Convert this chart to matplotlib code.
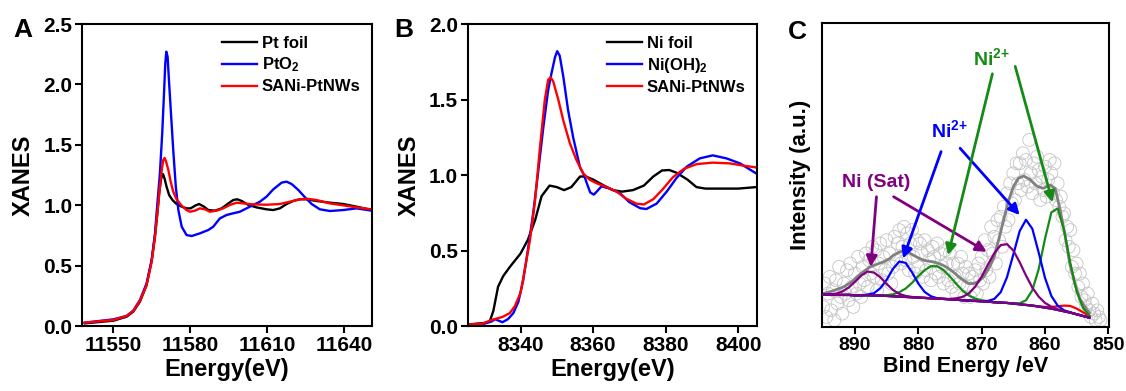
import numpy as np
import matplotlib
matplotlib.use("Agg")
import matplotlib.pyplot as plt

plt.rcParams["font.family"] = ["Liberation Sans", "DejaVu Sans"]
plt.rcParams["font.weight"] = "bold"
plt.rcParams["axes.labelweight"] = "bold"
plt.rcParams["mathtext.fontset"] = "custom"
plt.rcParams["mathtext.rm"] = "Liberation Sans:bold"
plt.rcParams["mathtext.bf"] = "Liberation Sans:bold"
plt.rcParams["mathtext.default"] = "bf"

# ---- panel A: Pt L3-edge XANES ----
pt_foil_e = [11538.9, 11550.0, 11555.2, 11557.8, 11560.4, 11563.0, 11565.0, 11566.3, 11567.2, 11567.9,
             11568.7, 11569.4, 11570.0, 11570.8, 11571.8, 11573.1, 11574.7, 11576.7, 11578.6, 11580.2,
             11581.9, 11583.5, 11585.4, 11587.1, 11589.7, 11592.3, 11594.9, 11596.8, 11598.4, 11600.1,
             11602.7, 11605.9, 11609.8, 11612.4, 11615.0, 11617.6, 11620.2, 11622.8, 11625.4, 11629.3,
             11634.5, 11639.7, 11644.9, 11650.8]
pt_foil_y = [0.022, 0.044, 0.077, 0.119, 0.201, 0.339, 0.546, 0.753, 0.933, 1.098,
             1.222, 1.258, 1.222, 1.153, 1.084, 1.043, 1.010, 0.988, 0.974, 0.974,
             0.996, 1.010, 0.988, 0.960, 0.955, 0.974, 1.015, 1.043, 1.049, 1.035,
             1.002, 0.982, 0.966, 0.960, 0.974, 1.010, 1.035, 1.049, 1.049, 1.035,
             1.021, 1.010, 0.988, 0.960]

pto2_e = [11538.9, 11550.0, 11555.2, 11557.8, 11560.4, 11563.0, 11565.0, 11566.3, 11566.9, 11568.2,
          11569.1, 11569.8, 11570.3, 11570.7, 11571.2, 11571.8, 11572.6, 11573.4, 11574.4, 11575.4,
          11576.7, 11578.6, 11580.6, 11583.8, 11587.1, 11589.0, 11591.6, 11594.2, 11596.8, 11599.4,
          11603.3, 11607.2, 11609.8, 11612.4, 11615.7, 11617.6, 11619.6, 11622.2, 11624.8, 11627.4,
          11630.6, 11634.5, 11639.7, 11644.9, 11650.8]
pto2_y = [0.028, 0.055, 0.083, 0.127, 0.215, 0.353, 0.546, 0.767, 0.933, 1.264,
          1.595, 1.926, 2.174, 2.271, 2.230, 2.009, 1.733, 1.457, 1.153, 0.960,
          0.822, 0.753, 0.745, 0.767, 0.795, 0.822, 0.891, 0.919, 0.933, 0.946,
          0.988, 1.029, 1.071, 1.131, 1.187, 1.195, 1.175, 1.126, 1.065, 1.010,
          0.966, 0.952, 0.960, 0.974, 0.955]

pt_sani_e = [11538.9, 11550.0, 11555.2, 11557.8, 11560.4, 11563.0, 11565.0, 11566.3, 11567.2, 11568.2,
             11569.0, 11569.5, 11570.0, 11570.5, 11571.5, 11572.4, 11573.4, 11574.7, 11576.7, 11578.6,
             11579.9, 11581.9, 11583.8, 11585.8, 11587.7, 11590.3, 11592.9, 11595.5, 11598.1, 11600.7,
             11604.6, 11609.8, 11615.0, 11618.9, 11622.8, 11625.4, 11629.3, 11634.5, 11639.7, 11644.9,
             11650.8]
pt_sani_y = [0.028, 0.050, 0.083, 0.124, 0.207, 0.339, 0.533, 0.740, 0.933, 1.153,
             1.305, 1.374, 1.391, 1.369, 1.291, 1.195, 1.112, 1.049, 0.996, 0.960,
             0.946, 0.955, 0.974, 0.966, 0.946, 0.955, 0.974, 1.002, 1.021, 1.015,
             1.007, 1.004, 1.010, 1.029, 1.049, 1.054, 1.043, 1.015, 0.999, 0.982,
             0.966]

# ---- panel B: Ni K-edge XANES ----
ni_foil_e = [8325.5, 8330.0, 8331.5, 8332.5, 8333.8, 8335.2, 8337.0, 8340.0, 8342.0, 8344.0,
             8345.8, 8348.0, 8350.0, 8352.0, 8354.0, 8356.4, 8358.0, 8360.0, 8363.0, 8365.5,
             8368.0, 8371.0, 8374.0, 8376.6, 8379.0, 8381.0, 8383.0, 8386.0, 8388.5, 8391.0,
             8394.0, 8397.0, 8400.0, 8405.0]
ni_foil_y = [0.01, 0.02, 0.03, 0.10, 0.26, 0.33, 0.39, 0.48, 0.57, 0.70,
             0.86, 0.93, 0.92, 0.90, 0.92, 0.99, 0.99, 0.97, 0.93, 0.90,
             0.89, 0.90, 0.93, 0.99, 1.03, 1.033, 1.015, 0.97, 0.92, 0.91,
             0.91, 0.91, 0.91, 0.92]

nioh_e = [8325.5, 8330.0, 8332.0, 8333.0, 8334.0, 8335.0, 8336.5, 8338.0, 8339.4, 8340.7,
          8342.0, 8343.5, 8344.9, 8346.3, 8347.6, 8348.5, 8349.5, 8350.1, 8350.8, 8351.8,
          8353.1, 8354.5, 8356.4, 8357.5, 8358.2, 8359.2, 8360.2, 8361.2, 8362.3, 8364.6,
          8367.4, 8370.0, 8373.0, 8374.7, 8377.5, 8380.3, 8383.0, 8385.8, 8389.4, 8393.0,
          8396.8, 8400.5, 8405.0]
nioh_y = [0.01, 0.015, 0.03, 0.045, 0.035, 0.025, 0.045, 0.085, 0.16, 0.30,
          0.50, 0.75, 1.03, 1.32, 1.56, 1.67, 1.78, 1.82, 1.79, 1.65,
          1.43, 1.25, 1.05, 1.00, 0.95, 0.885, 0.87, 0.895, 0.925, 0.91,
          0.88, 0.82, 0.78, 0.775, 0.81, 0.89, 0.98, 1.055, 1.11, 1.13,
          1.11, 1.077, 1.01]

ni_sani_e = [8325.5, 8329.4, 8332.0, 8333.5, 8335.0, 8337.0, 8338.4, 8340.0, 8341.0, 8342.6,
             8344.0, 8345.3, 8346.7, 8347.6, 8348.3, 8349.0, 8350.4, 8351.8, 8353.6, 8355.4,
             8357.3, 8359.0, 8361.0, 8363.7, 8366.5, 8369.0, 8372.0, 8374.0, 8376.6, 8379.0,
             8382.0, 8385.0, 8388.5, 8393.0, 8397.7, 8402.0, 8405.0]
ni_sani_y = [0.01, 0.015, 0.04, 0.05, 0.06, 0.085, 0.13, 0.22, 0.35, 0.57,
             0.83, 1.17, 1.50, 1.63, 1.647, 1.62, 1.50, 1.36, 1.21, 1.10,
             1.01, 0.97, 0.945, 0.92, 0.89, 0.845, 0.81, 0.805, 0.84, 0.90,
             0.985, 1.04, 1.072, 1.082, 1.077, 1.06, 1.05]

# ---- panel C: Ni 2p XPS ----
xps_e = [895.0, 894.75, 894.5, 894.25, 894.0, 893.75, 893.5, 893.25, 893.0, 892.75, 892.5, 892.25,
         892.0, 891.75, 891.5, 891.25, 891.0, 890.75, 890.5, 890.25, 890.0, 889.75, 889.5, 889.25,
         889.0, 888.75, 888.5, 888.25, 888.0, 887.75, 887.5, 887.25, 887.0, 886.75, 886.5, 886.25,
         886.0, 885.75, 885.5, 885.25, 885.0, 884.75, 884.5, 884.25, 884.0, 883.75, 883.5, 883.25,
         883.0, 882.75, 882.5, 882.25, 882.0, 881.75, 881.5, 881.25, 881.0, 880.75, 880.5, 880.25,
         880.0, 879.75, 879.5, 879.25, 879.0, 878.75, 878.5, 878.25, 878.0, 877.75, 877.5, 877.25,
         877.0, 876.75, 876.5, 876.25, 876.0, 875.75, 875.5, 875.25, 875.0, 874.75, 874.5, 874.25,
         874.0, 873.75, 873.5, 873.25, 873.0, 872.75, 872.5, 872.25, 872.0, 871.75, 871.5, 871.25,
         871.0, 870.75, 870.5, 870.25, 870.0, 869.75, 869.5, 869.25, 869.0, 868.75, 868.5, 868.25,
         868.0, 867.75, 867.5, 867.25, 867.0, 866.75, 866.5, 866.25, 866.0, 865.75, 865.5, 865.25,
         865.0, 864.75, 864.5, 864.25, 864.0, 863.75, 863.5, 863.25, 863.0, 862.75, 862.5, 862.25,
         862.0, 861.75, 861.5, 861.25, 861.0, 860.75, 860.5, 860.25, 860.0, 859.75, 859.5, 859.25,
         859.0, 858.75, 858.5, 858.25, 858.0, 857.75, 857.5, 857.25, 857.0, 856.75, 856.5, 856.25,
         856.0, 855.75, 855.5, 855.25, 855.0, 854.75, 854.5, 854.25, 854.0, 853.75, 853.5, 853.25,
         853.0, 852.75, 852.5, 852.25, 852.0, 851.75, 851.5, 851.25]
xps_counts = [0.6, 1.3, 0.3, 1.0, 1.5, 0.5, 1.1, 0.2, 1.4, 0.7, 1.8, 0.9,
              0.4, 1.3, 1.0, 1.7, 0.8, 1.9, 1.2, 0.6, 1.6, 1.0, 2.1, 1.3,
              0.9, 1.8, 1.4, 2.2, 1.2, 2.0, 1.6, 2.4, 1.5, 2.3, 1.1, 1.9,
              2.5, 1.4, 2.1, 1.7, 2.6, 1.6, 2.2, 1.3, 1.8, 2.7, 2.0, 2.5,
              2.9, 1.9, 2.4, 3.0, 2.0, 2.8, 1.7, 2.5, 2.9, 2.1, 1.6, 2.6,
              1.8, 2.5, 2.2, 1.5, 2.6, 1.7, 2.3, 2.0, 1.4, 2.4, 2.1, 1.6,
              2.5, 1.5, 2.2, 1.8, 1.3, 2.3, 1.9, 1.4, 2.2, 1.2, 1.9, 1.5,
              1.0, 1.9, 1.3, 2.1, 1.6, 0.9, 1.8, 1.2, 1.6, 0.9, 1.5, 1.1,
              1.7, 1.0, 1.9, 1.4, 2.1, 1.3, 2.6, 1.7, 2.3, 1.5, 3.0, 2.2,
              2.7, 1.9, 3.2, 2.6, 3.3, 2.4, 3.6, 3.0, 4.0, 3.2, 4.3, 3.7,
              4.6, 3.8, 4.9, 4.3, 4.9, 4.1, 5.2, 4.4, 5.0, 4.2, 5.6, 4.6,
              4.0, 4.9, 4.3, 5.1, 4.7, 3.8, 4.5, 4.1, 4.8, 3.9, 4.4, 5.0,
              4.6, 4.0, 4.9, 3.8, 4.3, 3.6, 3.9, 3.3, 3.4, 2.6, 3.0, 2.4,
              2.9, 1.8, 2.3, 1.6, 1.9, 1.2, 1.6, 0.9, 1.3, 0.8, 0.6, 1.0,
              0.5, 0.3, 0.7, 0.4, 0.2, 0.5, 0.3, 0.2]

envelope_e = [895.0, 893.5, 891.8, 890.5, 889.7, 888.5, 887.6, 886.5, 885.5, 884.5, 883.9, 883.0,
              882.4, 881.6, 880.8, 880.0, 879.2, 878.4, 877.6, 876.8, 876.1, 875.3, 874.5, 873.7,
              872.9, 872.1, 871.3, 870.5, 869.7, 869.2, 868.6, 868.0, 867.4, 866.6, 865.8, 865.0,
              864.2, 863.4, 862.4, 861.3, 860.3, 859.2, 858.4, 857.6, 856.8, 856.1, 855.3, 854.5,
              853.7, 853.0]
envelope_i = [1.0, 1.08, 1.2, 1.35, 1.5, 1.68, 1.8, 1.88, 1.95, 2.05, 2.15, 2.24,
              2.28, 2.24, 2.15, 2.07, 2.0, 1.97, 1.95, 1.9, 1.85, 1.76, 1.65, 1.52,
              1.4, 1.3, 1.3, 1.36, 1.5, 1.65, 1.85, 2.1, 2.55, 3.15, 3.75, 4.2,
              4.45, 4.52, 4.42, 4.22, 4.15, 4.25, 4.15, 3.5, 2.7, 1.9, 1.3, 0.85,
              0.6, 0.42]

fit_e = [895, 894, 893, 892, 891, 890, 889, 888, 887, 886, 885, 884, 883, 882, 881,
         880, 879, 878, 877, 876, 875, 874, 873, 872, 871, 870, 869, 868, 867, 866,
         865, 864, 863, 862, 861, 860, 859, 858, 857, 856, 855, 854, 853]
background = [0.97, 0.97, 0.96, 0.96, 0.96, 0.95, 0.95, 0.95, 0.94, 0.94, 0.93, 0.92, 0.91, 0.90, 0.89,
              0.88, 0.87, 0.86, 0.85, 0.84, 0.83, 0.82, 0.80, 0.79, 0.78, 0.77, 0.76, 0.74, 0.73, 0.72,
              0.70, 0.68, 0.66, 0.64, 0.61, 0.58, 0.55, 0.51, 0.47, 0.43, 0.38, 0.33, 0.28]
sat_1 = [0, 0.01, 0.035, 0.10, 0.22, 0.40, 0.59, 0.71, 0.69, 0.55, 0.36, 0.19, 0.08, 0.03, 0.01] + [0] * 28
ni2_blue_1 = [0] * 7 + [0.02, 0.07, 0.22, 0.48, 0.82, 1.05, 1.02, 0.75, 0.42, 0.18, 0.06, 0.01] + [0] * 24
ni2_green_1 = [0] * 9 + [0.01, 0.02, 0.06, 0.13, 0.25, 0.43, 0.64, 0.83, 0.96, 0.97, 0.86, 0.68,
                         0.47, 0.29, 0.15, 0.07, 0.03, 0.01] + [0] * 16
sat_2 = [0] * 20 + [0.01, 0.04, 0.10, 0.22, 0.43, 0.74, 1.11, 1.47, 1.72, 1.76, 1.59, 1.26, 0.88,
                    0.54, 0.30, 0.14, 0.06, 0.02, 0.01] + [0] * 4
ni2_blue_2 = [0] * 26 + [0.02, 0.10, 0.31, 0.77, 1.47, 2.19, 2.55, 2.30, 1.62, 0.89, 0.38, 0.13,
                         0.03, 0.01] + [0] * 3
ni2_green_2 = [0] * 30 + [0.01, 0.03, 0.14, 0.46, 1.12, 2.06, 2.88, 3.04, 2.44, 1.48, 0.68, 0.24, 0.06]
minor_red = [0] * 34 + [0.01, 0.02, 0.05, 0.11, 0.17, 0.20, 0.17, 0.11, 0.06]

PURPLE = "#800080"
BLUE = "#0000ff"
GREEN = "#168a16"
RED = "#ff0000"

fig = plt.figure(figsize=(11.26, 3.91), dpi=100)
axA = fig.add_axes([0.0728, 0.1662, 0.2575, 0.7724])
axB = fig.add_axes([0.4156, 0.1662, 0.2567, 0.7724])
axC = fig.add_axes([0.7300, 0.1637, 0.2549, 0.7775])


def style(ax):
    for s in ax.spines.values():
        s.set_linewidth(1.5)
    ax.tick_params(direction="out", length=5, width=1.5, labelsize=15, pad=2)


# A
axA.plot(pt_foil_e, pt_foil_y, color="black", lw=1.7, label="Pt foil")
axA.plot(pto2_e, pto2_y, color=BLUE, lw=1.7, label="PtO$_2$")
axA.plot(pt_sani_e, pt_sani_y, color=RED, lw=1.7, label="SANi-PtNWs")
axA.set_xlim(11537.8, 11650.9)
axA.set_ylim(0, 2.5)
axA.set_xticks([11550, 11580, 11610, 11640])
axA.set_yticks([0.0, 0.5, 1.0, 1.5, 2.0, 2.5])
axA.set_yticklabels(["0.0", "0.5", "1.0", "1.5", "2.0", "2.5"])
axA.set_xlabel("Energy(eV)", fontsize=17, labelpad=2)
axA.set_ylabel("XANES", fontsize=17, labelpad=6)
style(axA)
axA.legend(loc="upper right", frameon=False, fontsize=12, handlelength=2.1,
           handletextpad=0.3, labelspacing=0.3, borderaxespad=0.3)

# B
axB.plot(ni_foil_e, ni_foil_y, color="black", lw=1.7, label="Ni foil")
axB.plot(nioh_e, nioh_y, color=BLUE, lw=1.7, label="Ni(OH)$_2$")
axB.plot(ni_sani_e, ni_sani_y, color=RED, lw=1.7, label="SANi-PtNWs")
axB.set_xlim(8325.5, 8405.2)
axB.set_ylim(0, 2.0)
axB.set_xticks([8340, 8360, 8380, 8400])
axB.set_yticks([0.0, 0.5, 1.0, 1.5, 2.0])
axB.set_yticklabels(["0.0", "0.5", "1.0", "1.5", "2.0"])
axB.set_xlabel("Energy(eV)", fontsize=17, labelpad=2)
axB.set_ylabel("XANES", fontsize=17, labelpad=6)
style(axB)
axB.legend(loc="upper right", frameon=False, fontsize=12, handlelength=2.1,
           handletextpad=0.3, labelspacing=0.3, borderaxespad=0.3)

# C
bg = np.array(background)
axC.scatter(xps_e, xps_counts, s=85, facecolors="none", edgecolors="#c4c4c4",
            linewidths=0.6, zorder=1)
axC.plot(envelope_e, envelope_i, color="#808080", lw=2.0, zorder=2)
axC.plot(fit_e, bg + np.array(minor_red), color=RED, lw=1.6, zorder=3)
axC.plot(fit_e, bg + np.array(ni2_green_1), color=GREEN, lw=1.6, zorder=4)
axC.plot(fit_e, bg + np.array(ni2_green_2), color=GREEN, lw=1.6, zorder=4)
axC.plot(fit_e, bg + np.array(ni2_blue_1), color=BLUE, lw=1.6, zorder=5)
axC.plot(fit_e, bg + np.array(ni2_blue_2), color=BLUE, lw=1.6, zorder=5)
axC.plot(fit_e, bg + np.array(sat_1), color=PURPLE, lw=1.6, zorder=6)
axC.plot(fit_e, bg + np.array(sat_2), color=PURPLE, lw=1.6, zorder=6)
axC.set_xlim(895.2, 849.9)
axC.set_ylim(0, 9.1)
axC.set_xticks([890, 880, 870, 860, 850])
axC.set_yticks([])
axC.set_xlabel("Bind Energy /eV", fontsize=15.5, labelpad=2)
axC.set_ylabel("Intensity (a.u.)", fontsize=16, labelpad=8)
style(axC)
axC.tick_params(axis="x", labelsize=14)

arrow_kw = dict(arrowstyle="-|>", lw=2, mutation_scale=16, shrinkA=0, shrinkB=0)
axC.text(886.7, 4.32, "Ni (Sat)", color=PURPLE, fontsize=14, ha="center", va="center")
axC.annotate("", xy=(887.5, 1.8), xytext=(886.6, 3.9), arrowprops=dict(color=PURPLE, **arrow_kw))
axC.annotate("", xy=(869.2, 2.25), xytext=(883.9, 3.9), arrowprops=dict(color=PURPLE, **arrow_kw))
axC.text(875.1, 5.9, "Ni$^{2{+}}$", color=BLUE, fontsize=14, ha="center", va="center")
axC.annotate("", xy=(882.4, 2.05), xytext=(876.4, 5.25), arrowprops=dict(color=BLUE, **arrow_kw))
axC.annotate("", xy=(864.0, 3.35), xytext=(873.4, 5.35), arrowprops=dict(color=BLUE, **arrow_kw))
axC.text(868.5, 8.05, "Ni$^{2{+}}$", color=GREEN, fontsize=14, ha="center", va="center")
axC.annotate("", xy=(875.3, 2.15), xytext=(868.3, 7.58), arrowprops=dict(color=GREEN, **arrow_kw))
axC.annotate("", xy=(858.8, 3.73), xytext=(864.7, 7.8), arrowprops=dict(color=GREEN, **arrow_kw))

fig.text(0.0204, 0.955, "A", fontsize=19, ha="center", va="top")
fig.text(0.359, 0.955, "B", fontsize=19, ha="center", va="top")
fig.text(0.708, 0.950, "C", fontsize=19, ha="center", va="top")

fig.savefig("out.png", dpi=100)
